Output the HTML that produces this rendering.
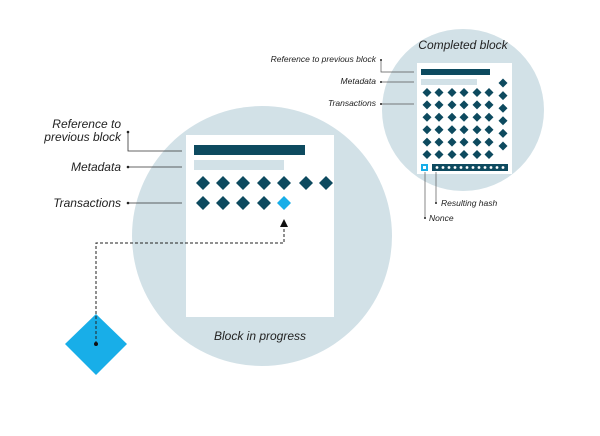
<!DOCTYPE html>
<html><head><style>html,body{margin:0;padding:0;background:#fff;width:600px;height:436px;overflow:hidden}</style></head>
<body>
<svg width="600" height="436" viewBox="0 0 600 436" xmlns="http://www.w3.org/2000/svg" font-family="Liberation Sans, sans-serif" font-style="italic" fill="#222">
<circle cx="262" cy="236" r="130" fill="#d2e1e7"/>
<circle cx="463" cy="110" r="81" fill="#d2e1e7"/>
<!-- block in progress -->
<rect x="186" y="135" width="148" height="182" fill="#fff"/>
<rect x="194" y="145" width="111" height="10" fill="#0d4a5f"/>
<rect x="194" y="160" width="90" height="10" fill="#d2e1e7"/>
<g fill="#0d4a5f">
<path d="M203 176l7 7-7 7-7-7z"/><path d="M223 176l7 7-7 7-7-7z"/><path d="M243 176l7 7-7 7-7-7z"/><path d="M264 176l7 7-7 7-7-7z"/><path d="M284 176l7 7-7 7-7-7z"/><path d="M306 176l7 7-7 7-7-7z"/><path d="M326 176l7 7-7 7-7-7z"/>
<path d="M203 196l7 7-7 7-7-7z"/><path d="M223 196l7 7-7 7-7-7z"/><path d="M243 196l7 7-7 7-7-7z"/><path d="M264 196l7 7-7 7-7-7z"/>
</g>
<path d="M284 196l7 7-7 7-7-7z" fill="#18aee8"/>
<g font-size="12" text-anchor="end">
<text x="121" y="128">Reference to</text>
<text x="121" y="141">previous block</text>
<text x="121" y="171">Metadata</text>
<text x="121" y="207">Transactions</text>
</g>
<g stroke="#333" stroke-width="0.8" fill="none">
<path d="M128 132V151H182"/><path d="M128 167H182"/><path d="M128 203H182"/>
</g>
<g fill="#222"><circle cx="128" cy="132" r="1.3"/><circle cx="128" cy="167" r="1.3"/><circle cx="128" cy="203" r="1.3"/></g>
<text x="260" y="340" font-size="12" text-anchor="middle">Block in progress</text>
<!-- mining diamond -->
<path d="M96 314l31 30-31 31-31-31z" fill="#18aee8"/>
<path d="M96 344V243H284V228" stroke="#222" stroke-width="1" stroke-dasharray="3,2" fill="none"/>
<path d="M284 219l-4 8h8z" fill="#111"/>
<circle cx="96" cy="344" r="2" fill="#111"/>
<!-- completed block -->
<text x="463" y="49" font-size="12" text-anchor="middle">Completed block</text>
<rect x="417" y="63" width="95" height="111" fill="#fff"/>
<rect x="421" y="69" width="69" height="6" fill="#0d4a5f"/>
<rect x="421" y="79" width="56" height="6" fill="#d2e1e7"/>
<g fill="#0d4a5f" id="g">
<path d="M427 88l4.5 4.5-4.5 4.5-4.5-4.5z"/><path d="M439 88l4.5 4.5-4.5 4.5-4.5-4.5z"/><path d="M452 88l4.5 4.5-4.5 4.5-4.5-4.5z"/><path d="M464 88l4.5 4.5-4.5 4.5-4.5-4.5z"/><path d="M477 88l4.5 4.5-4.5 4.5-4.5-4.5z"/><path d="M489 88l4.5 4.5-4.5 4.5-4.5-4.5z"/>
</g>
<use href="#g" y="12.4"/><use href="#g" y="24.8"/><use href="#g" y="37.2"/><use href="#g" y="49.6"/><use href="#g" y="62"/>
<g fill="#0d4a5f" id="c"><path d="M503 78.5l4.5 4.5-4.5 4.5-4.5-4.5z"/></g>
<use href="#c" y="12.6"/><use href="#c" y="25.2"/><use href="#c" y="37.8"/><use href="#c" y="50.4"/><use href="#c" y="63"/>
<rect x="421" y="164" width="7" height="7" fill="#18aee8"/><rect x="423" y="166" width="3" height="3" fill="#fff"/>
<rect x="432" y="164" width="76" height="7" fill="#0d4a5f"/>
<g fill="#fff"><circle cx="437" cy="167.5" r="1.4"/><circle cx="443" cy="167.5" r="1.4"/><circle cx="449" cy="167.5" r="1.4"/><circle cx="455" cy="167.5" r="1.4"/><circle cx="461" cy="167.5" r="1.4"/><circle cx="467" cy="167.5" r="1.4"/><circle cx="473" cy="167.5" r="1.4"/><circle cx="479" cy="167.5" r="1.4"/><circle cx="485" cy="167.5" r="1.4"/><circle cx="491" cy="167.5" r="1.4"/><circle cx="497" cy="167.5" r="1.4"/><circle cx="503" cy="167.5" r="1.4"/></g>
<g font-size="8.5">
<text x="376" y="62" text-anchor="end">Reference to previous block</text>
<text x="376" y="84" text-anchor="end">Metadata</text>
<text x="376" y="106" text-anchor="end">Transactions</text>
<text x="441" y="206">Resulting hash</text>
<text x="429" y="221">Nonce</text>
</g>
<g stroke="#555" stroke-width="0.7" fill="none">
<path d="M381 60V72H414"/><path d="M381 82H414"/><path d="M381 104H414"/>
<path d="M436 172V203"/><path d="M425 172V218"/>
</g>
<g fill="#222"><circle cx="381" cy="60" r="1"/><circle cx="381" cy="82" r="1"/><circle cx="381" cy="104" r="1"/><circle cx="436" cy="203" r="1"/><circle cx="425" cy="218" r="1"/></g>
</svg>
</body></html>
